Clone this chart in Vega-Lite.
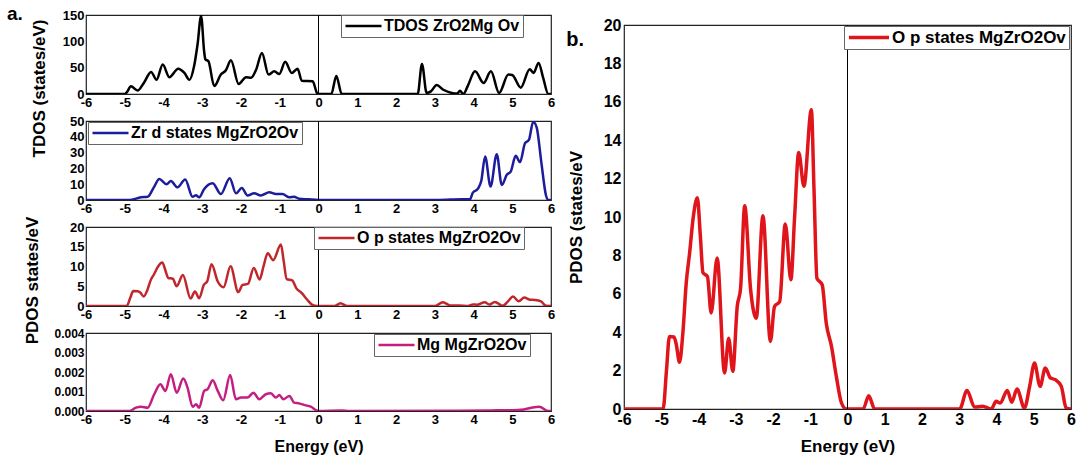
{
  "$schema": "https://vega.github.io/schema/vega-lite/v6.json",
  "padding": {"left": 6, "top": 4, "right": 0, "bottom": 0},
  "background": "white",
  "config": {
    "font": "Liberation Sans",
    "view": {"stroke": "#222222", "strokeWidth": 1.2},
    "axis": {"labelFont": "Liberation Sans", "labelFontWeight": "bold", "labelColor": "black", "titleFont": "Liberation Sans", "titleFontWeight": "bold", "titleColor": "black", "ticks": false, "grid": false, "domain": false, "labelFlush": false, "labelOverlap": false, "labelSeparation": 0, "labelBound": false, "labelFontSize": 13, "titleFontSize": 16, "labelPadding": 2},
    "legend": {"orient": "none", "symbolType": "stroke", "symbolStrokeWidth": 2.5, "symbolSize": 1296, "clipHeight": 16, "labelFont": "Liberation Sans", "labelFontWeight": "bold", "labelFontSize": 16, "labelColor": "black", "strokeColor": "#666666", "fillColor": "white", "padding": 3, "labelOffset": 1, "labelLimit": 400},
    "title": {"font": "Liberation Sans", "fontWeight": "bold", "color": "black", "anchor": "start", "frame": "bounds", "offset": 0}
  },
  "datasets": {
    "tdos": [
      {"e": -6, "v": 0}, {"e": -5.0, "v": 0}, {"e": -4.95, "v": 3}, {"e": -4.84, "v": 14.5}, {"e": -4.67, "v": 6.5}, {"e": -4.5, "v": 22}, {"e": -4.32, "v": 42}, {"e": -4.18, "v": 27}, {"e": -4.02, "v": 56}, {"e": -3.85, "v": 32}, {"e": -3.62, "v": 48}, {"e": -3.46, "v": 40}, {"e": -3.33, "v": 27}, {"e": -3.21, "v": 53}, {"e": -3.12, "v": 95}, {"e": -3.03, "v": 148}, {"e": -2.95, "v": 80}, {"e": -2.92, "v": 66}, {"e": -2.84, "v": 62}, {"e": -2.69, "v": 15}, {"e": -2.52, "v": 37}, {"e": -2.39, "v": 45}, {"e": -2.26, "v": 64}, {"e": -2.06, "v": 19}, {"e": -1.87, "v": 32}, {"e": -1.74, "v": 31}, {"e": -1.61, "v": 46}, {"e": -1.46, "v": 78}, {"e": -1.29, "v": 37}, {"e": -1.14, "v": 43}, {"e": -1.01, "v": 38}, {"e": -0.86, "v": 61}, {"e": -0.69, "v": 40}, {"e": -0.54, "v": 48}, {"e": -0.43, "v": 25}, {"e": -0.15, "v": 24}, {"e": -0.04, "v": 2}, {"e": 0, "v": 0}, {"e": 0.33, "v": 0}, {"e": 0.46, "v": 34}, {"e": 0.6, "v": 0}, {"e": 2.56, "v": 0}, {"e": 2.67, "v": 57}, {"e": 2.79, "v": 2}, {"e": 2.9, "v": 5}, {"e": 3.05, "v": 17}, {"e": 3.22, "v": 8}, {"e": 3.44, "v": 2}, {"e": 3.58, "v": 1}, {"e": 3.65, "v": 6}, {"e": 3.74, "v": 0}, {"e": 3.85, "v": 15}, {"e": 4.04, "v": 43}, {"e": 4.26, "v": 21}, {"e": 4.45, "v": 43}, {"e": 4.66, "v": 2}, {"e": 4.9, "v": 37}, {"e": 5.0, "v": 36}, {"e": 5.22, "v": 12}, {"e": 5.45, "v": 47}, {"e": 5.55, "v": 40}, {"e": 5.68, "v": 59}, {"e": 5.8, "v": 30}, {"e": 5.93, "v": 0}, {"e": 6, "v": 0}
    ],
    "zrd": [
      {"e": -6, "v": 0}, {"e": -4.88, "v": 0}, {"e": -4.58, "v": 1.7}, {"e": -4.41, "v": 2}, {"e": -4.25, "v": 8}, {"e": -4.11, "v": 13.3}, {"e": -3.92, "v": 10}, {"e": -3.81, "v": 12}, {"e": -3.64, "v": 8}, {"e": -3.44, "v": 13}, {"e": -3.25, "v": 2}, {"e": -3.16, "v": 3}, {"e": -3.08, "v": 1.7}, {"e": -2.95, "v": 7}, {"e": -2.73, "v": 10.6}, {"e": -2.52, "v": 3.8}, {"e": -2.29, "v": 13.8}, {"e": -2.13, "v": 4.2}, {"e": -1.98, "v": 7.6}, {"e": -1.83, "v": 2.8}, {"e": -1.66, "v": 4.2}, {"e": -1.49, "v": 2.8}, {"e": -1.27, "v": 4.9}, {"e": -1.1, "v": 3.8}, {"e": -0.93, "v": 3.8}, {"e": -0.75, "v": 1.7}, {"e": -0.63, "v": 2.1}, {"e": -0.5, "v": 0.8}, {"e": -0.26, "v": 0.4}, {"e": 0, "v": 0}, {"e": 3.1, "v": 0}, {"e": 3.7, "v": 0.5}, {"e": 3.91, "v": 0.4}, {"e": 3.98, "v": 4.5}, {"e": 4.11, "v": 7}, {"e": 4.2, "v": 12}, {"e": 4.3, "v": 27.5}, {"e": 4.44, "v": 8.5}, {"e": 4.6, "v": 29}, {"e": 4.73, "v": 9.5}, {"e": 4.86, "v": 16}, {"e": 4.96, "v": 18}, {"e": 5.09, "v": 28}, {"e": 5.2, "v": 24}, {"e": 5.33, "v": 36}, {"e": 5.43, "v": 38}, {"e": 5.54, "v": 49.5}, {"e": 5.63, "v": 46}, {"e": 5.75, "v": 24}, {"e": 5.87, "v": 3}, {"e": 5.93, "v": 0}, {"e": 6, "v": 0}
    ],
    "op": [
      {"e": -6, "v": 0}, {"e": -4.95, "v": 0}, {"e": -4.86, "v": 2.0}, {"e": -4.78, "v": 3.78}, {"e": -4.66, "v": 3.75}, {"e": -4.6, "v": 3.4}, {"e": -4.51, "v": 2.43}, {"e": -4.42, "v": 3.95}, {"e": -4.33, "v": 6.55}, {"e": -4.24, "v": 8.1}, {"e": -4.14, "v": 10.0}, {"e": -4.03, "v": 11.0}, {"e": -3.95, "v": 9.0}, {"e": -3.88, "v": 7.1}, {"e": -3.76, "v": 6.9}, {"e": -3.66, "v": 5.0}, {"e": -3.5, "v": 7.86}, {"e": -3.3, "v": 1.87}, {"e": -3.19, "v": 3.69}, {"e": -3.08, "v": 1.96}, {"e": -2.96, "v": 5.34}, {"e": -2.87, "v": 6.3}, {"e": -2.76, "v": 10.58}, {"e": -2.6, "v": 6.2}, {"e": -2.45, "v": 4.73}, {"e": -2.27, "v": 10.06}, {"e": -2.07, "v": 3.52}, {"e": -1.96, "v": 5.34}, {"e": -1.82, "v": 5.6}, {"e": -1.67, "v": 9.64}, {"e": -1.52, "v": 6.73}, {"e": -1.42, "v": 10.0}, {"e": -1.31, "v": 13.36}, {"e": -1.17, "v": 11.6}, {"e": -0.97, "v": 15.59}, {"e": -0.9, "v": 11.5}, {"e": -0.82, "v": 6.8}, {"e": -0.68, "v": 6.47}, {"e": -0.57, "v": 4.47}, {"e": -0.43, "v": 3.26}, {"e": -0.3, "v": 1.7}, {"e": -0.16, "v": 0.31}, {"e": -0.03, "v": 0}, {"e": 0.42, "v": 0}, {"e": 0.57, "v": 0.69}, {"e": 0.73, "v": 0}, {"e": 3.01, "v": 0}, {"e": 3.21, "v": 0.97}, {"e": 3.41, "v": 0.1}, {"e": 3.63, "v": 0.14}, {"e": 3.86, "v": 0}, {"e": 3.99, "v": 0.4}, {"e": 4.1, "v": 0.31}, {"e": 4.29, "v": 0.97}, {"e": 4.41, "v": 0.35}, {"e": 4.55, "v": 1.04}, {"e": 4.75, "v": 0.05}, {"e": 4.89, "v": 1.18}, {"e": 5.02, "v": 2.39}, {"e": 5.17, "v": 1.18}, {"e": 5.31, "v": 2.13}, {"e": 5.45, "v": 1.61}, {"e": 5.58, "v": 1.53}, {"e": 5.74, "v": 1.18}, {"e": 5.87, "v": 0.05}, {"e": 6, "v": 0}
    ],
    "mg": [
      {"e": -6, "v": 0}, {"e": -4.88, "v": 0}, {"e": -4.71, "v": 0.00017}, {"e": -4.58, "v": 0.00022}, {"e": -4.41, "v": 0.00017}, {"e": -4.24, "v": 0.00086}, {"e": -4.08, "v": 0.00137}, {"e": -3.95, "v": 0.00103}, {"e": -3.81, "v": 0.00189}, {"e": -3.66, "v": 0.00094}, {"e": -3.49, "v": 0.00167}, {"e": -3.38, "v": 0.0012}, {"e": -3.25, "v": 0.00022}, {"e": -3.16, "v": 0.00034}, {"e": -3.08, "v": 0.00017}, {"e": -2.95, "v": 0.00103}, {"e": -2.86, "v": 0.00112}, {"e": -2.73, "v": 0.00158}, {"e": -2.6, "v": 0.00103}, {"e": -2.46, "v": 0.00055}, {"e": -2.28, "v": 0.00184}, {"e": -2.13, "v": 0.0006}, {"e": -2.0, "v": 0.00069}, {"e": -1.83, "v": 0.00069}, {"e": -1.68, "v": 0.00094}, {"e": -1.53, "v": 0.0006}, {"e": -1.36, "v": 0.00086}, {"e": -1.23, "v": 0.00091}, {"e": -1.1, "v": 0.00069}, {"e": -1.01, "v": 0.00082}, {"e": -0.91, "v": 0.0006}, {"e": -0.75, "v": 0.00077}, {"e": -0.63, "v": 0.00043}, {"e": -0.5, "v": 0.00039}, {"e": -0.35, "v": 0.0003}, {"e": -0.2, "v": 0.00022}, {"e": -0.05, "v": 0.00003}, {"e": 0, "v": 0}, {"e": 0.6, "v": 0.00002}, {"e": 0.8, "v": 0}, {"e": 4.3, "v": 0.00002}, {"e": 4.6, "v": 0.00004}, {"e": 5.0, "v": 0.00004}, {"e": 5.3, "v": 0.00008}, {"e": 5.5, "v": 0.00017}, {"e": 5.7, "v": 0.00022}, {"e": 5.9, "v": 0.00002}, {"e": 6, "v": 0}
    ]
  },
  "hconcat": [
    {
      "vconcat": [
        {
          "width": 465, "height": 79,
          "title": {"text": "a.", "fontSize": 19, "dx": -23, "offset": -15},
          "encoding": {"x": {"field": "e", "type": "quantitative", "scale": {"domain": [-6, 6], "nice": false}, "axis": {"values": [-6, -5, -4, -3, -2, -1, 0, 1, 2, 3, 4, 5, 6], "labelExpr": "'' + datum.value", "labelOverlap": false, "title": null}}},
          "layer": [
            {
              "data": {"name": "tdos"},
              "mark": {"type": "line", "interpolate": "monotone", "strokeWidth": 2.5, "clip": true},
              "encoding": {
                "y": {"field": "v", "type": "quantitative", "scale": {"domain": [0, 150], "nice": false}, "axis": {"values": [0, 50, 100, 150], "labelOverlap": false, "title": "TDOS (states/eV)", "titleFontSize": 17, "titleX": -47, "titleY": 73, "titleBaseline": "middle", "titleAngle": 270}},
                "color": {"datum": "TDOS ZrO2Mg Ov", "scale": {"range": ["#000000"]}, "legend": {"title": null, "legendX": 255, "legendY": 0}}
              }
            },
            {"data": {"values": [{"e": 0}]}, "mark": {"type": "rule", "color": "black", "strokeWidth": 1}, "encoding": {}}
          ]
        },
        {
          "width": 465, "height": 79,
          "encoding": {"x": {"field": "e", "type": "quantitative", "scale": {"domain": [-6, 6], "nice": false}, "axis": {"values": [-6, -5, -4, -3, -2, -1, 0, 1, 2, 3, 4, 5, 6], "labelExpr": "'' + datum.value", "labelOverlap": false, "title": null}}},
          "layer": [
            {
              "data": {"name": "zrd"},
              "mark": {"type": "line", "interpolate": "monotone", "strokeWidth": 2.5, "clip": true},
              "encoding": {
                "y": {"field": "v", "type": "quantitative", "scale": {"domain": [0, 50], "nice": false}, "axis": {"values": [0, 10, 20, 30, 40, 50], "labelOverlap": false, "title": null}},
                "color": {"datum": "Zr d states MgZrO2Ov", "scale": {"range": ["#1c1c9c"]}, "legend": {"title": null, "legendX": 2, "legendY": 1}}
              }
            },
            {"data": {"values": [{"e": 0}]}, "mark": {"type": "rule", "color": "black", "strokeWidth": 1}, "encoding": {}}
          ]
        },
        {
          "width": 465, "height": 79,
          "encoding": {"x": {"field": "e", "type": "quantitative", "scale": {"domain": [-6, 6], "nice": false}, "axis": {"values": [-6, -5, -4, -3, -2, -1, 0, 1, 2, 3, 4, 5, 6], "labelExpr": "'' + datum.value", "labelOverlap": false, "title": null}}},
          "layer": [
            {
              "data": {"name": "op"},
              "mark": {"type": "line", "interpolate": "monotone", "strokeWidth": 2.5, "clip": true},
              "encoding": {
                "y": {"field": "v", "type": "quantitative", "scale": {"domain": [0, 20], "nice": false}, "axis": {"values": [0, 5, 10, 15, 20], "labelOverlap": false, "title": "PDOS states/eV", "titleFontSize": 17, "titleX": -54, "titleY": 53, "titleBaseline": "middle", "titleAngle": 270}},
                "color": {"datum": "O p states MgZrO2Ov", "scale": {"range": ["#c0272d"]}, "legend": {"title": null, "legendX": 228, "legendY": 0}}
              }
            },
            {"data": {"values": [{"e": 0}]}, "mark": {"type": "rule", "color": "black", "strokeWidth": 1}, "encoding": {}}
          ]
        },
        {
          "width": 465, "height": 78,
          "encoding": {"x": {"field": "e", "type": "quantitative", "scale": {"domain": [-6, 6], "nice": false}, "axis": {"values": [-6, -5, -4, -3, -2, -1, 0, 1, 2, 3, 4, 5, 6], "labelExpr": "'' + datum.value", "labelOverlap": false, "title": "Energy (eV)", "titlePadding": 12}}},
          "layer": [
            {
              "data": {"name": "mg"},
              "mark": {"type": "line", "interpolate": "monotone", "strokeWidth": 2.5, "clip": true},
              "encoding": {
                "y": {"field": "v", "type": "quantitative", "scale": {"domain": [0, 0.004], "nice": false}, "axis": {"values": [0, 0.001, 0.002, 0.003, 0.004], "format": ".3f", "labelOverlap": false, "title": null, "labelFontSize": 12}},
                "color": {"datum": "Mg MgZrO2Ov", "scale": {"range": ["#c41f80"]}, "legend": {"title": null, "legendX": 288, "legendY": 1}}
              }
            },
            {"data": {"values": [{"e": 0}]}, "mark": {"type": "rule", "color": "black", "strokeWidth": 1}, "encoding": {}}
          ]
        }
      ],
      "spacing": 27,
      "bounds": "flush",
      "resolve": {"scale": {"x": "independent", "y": "independent", "color": "independent"}, "legend": {"color": "independent"}}
    },
    {
      "vconcat": [
        {"width": 447, "height": 10, "data": {"values": []}, "mark": "point", "view": {"stroke": null}},
        {
          "width": 447, "height": 384,
          "title": {"text": "b.", "fontSize": 20, "dx": -1, "offset": -33},
          "encoding": {"x": {"field": "e", "type": "quantitative", "scale": {"domain": [-6, 6], "nice": false}, "axis": {"values": [-6, -5, -4, -3, -2, -1, 0, 1, 2, 3, 4, 5, 6], "labelExpr": "'' + datum.value", "labelOverlap": false, "title": "Energy (eV)", "labelFontSize": 16, "titleFontSize": 17, "titlePadding": 11}}},
          "layer": [
            {
              "data": {"name": "op"},
              "mark": {"type": "line", "interpolate": "monotone", "strokeWidth": 3.5, "clip": true},
              "encoding": {
                "y": {"field": "v", "type": "quantitative", "scale": {"domain": [0, 20], "nice": false}, "axis": {"values": [0, 2, 4, 6, 8, 10, 12, 14, 16, 18, 20], "labelOverlap": false, "title": "PDOS (states/eV", "labelFontSize": 16, "titleFontSize": 17, "titlePadding": 18, "labelPadding": 3}},
                "color": {"datum": "O p states MgZrO2Ov", "scale": {"range": ["#e0151b"]}, "legend": {"title": null, "legendX": 220, "legendY": 1, "labelFontSize": 17, "clipHeight": 17, "symbolSize": 1600, "symbolStrokeWidth": 3.5}}
              }
            },
            {"data": {"values": [{"e": 0}]}, "mark": {"type": "rule", "color": "black", "strokeWidth": 1}, "encoding": {}}
          ]
        }
      ],
      "spacing": 0,
      "bounds": "flush",
      "resolve": {"scale": {"x": "independent", "y": "independent", "color": "independent"}, "legend": {"color": "independent"}}
    }
  ],
  "spacing": 9,
  "resolve": {"scale": {"x": "independent", "y": "independent", "color": "independent"}, "legend": {"color": "independent"}}
}
